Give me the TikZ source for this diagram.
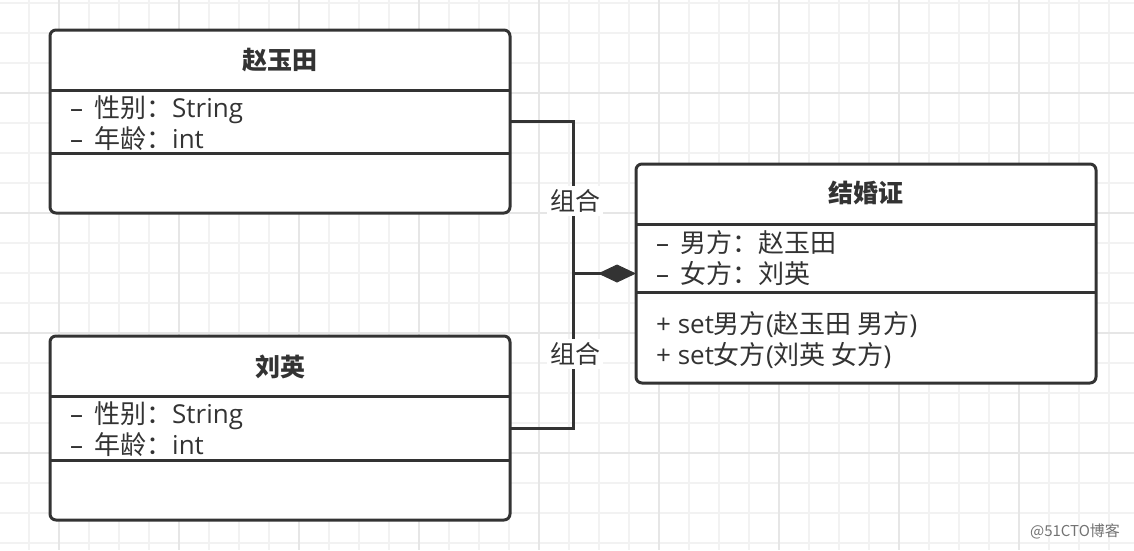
\documentclass[tikz,border=0pt]{standalone}
\usepackage{fontspec}
\setmainfont{Open Sans}
\newfontfamily\cjk{Noto Sans CJK SC}
\usepackage{xcolor}
\usetikzlibrary{arrows.meta}

\definecolor{umlline}{HTML}{333333}
\definecolor{gridminor}{HTML}{F2F2F2}
\definecolor{gridmajor}{HTML}{E6E6E6}

\newcommand{\priv}{–\hspace{11pt}}

\tikzset{
  classbox/.style={draw=umlline, line width=3pt, rounded corners=6pt, fill=white,
                   inner sep=0pt, outer sep=0pt},
  sepline/.style={draw=umlline, line width=3pt},
  classname/.style={font=\fontsize{25}{28}\selectfont\cjk\bfseries, text=umlline},
  members/.style={anchor=west, align=left, inner sep=0pt,
                  font=\fontsize{26}{31}\selectfont, text=umlline},
  assoc/.style={draw=umlline, line width=3pt},
  rolelabel/.style={fill=white, inner sep=3pt, font=\fontsize{25}{28}\selectfont\cjk, text=umlline},
}

\begin{document}
\begin{tikzpicture}[x=1pt, y=-1pt]
                \useasboundingbox (0,0) rectangle (1134,550);

                %% grid
                \foreach \x in {-1,29,...,1139}
                    \draw[gridminor, line width=1.5pt] (\x,0) -- (\x,550);
                \foreach \y in {3,33,...,550}
                    \draw[gridminor, line width=1.5pt] (0,\y) -- (1134,\y);
                \foreach \x in {59,179,...,1139}
                    \draw[gridmajor, line width=1.5pt] (\x,0) -- (\x,550);
                \foreach \y in {93,213,...,550}
                    \draw[gridmajor, line width=1.5pt] (0,\y) -- (1134,\y);

                %% 赵玉田
                \node[classbox, minimum width=460pt, minimum height=183pt] (zhao) at (280,121.5) {};
                \draw[sepline] (50,90) -- (510,90);
                \draw[sepline] (50,153) -- (510,153);
                \node[classname] (zhaoT) at (280,60) {赵玉田};
                \node[members] (zhaoA) at (70,123) {\priv{\cjk 性别：}String\\\priv{\cjk 年龄：}int};

                %% 刘英
                \node[classbox, minimum width=460pt, minimum height=184pt] (liu) at (280,428) {};
                \draw[sepline] (50,396) -- (510,396);
                \draw[sepline] (50,460) -- (510,460);
                \node[classname] (liuT) at (280,367) {刘英};
                \node[members] (liuA) at (70,429) {\priv{\cjk 性别：}String\\\priv{\cjk 年龄：}int};

                %% 结婚证
                \node[classbox, minimum width=460pt, minimum height=219pt] (cert) at (866,273.5) {};
                \draw[sepline] (636,224) -- (1096,224);
                \draw[sepline] (636,292) -- (1096,292);
                \node[classname] (certT) at (866,193) {结婚证};
                \node[members] (certA) at (656,258) {\priv{\cjk 男方：赵玉田}\\\priv{\cjk 女方：刘英}};
                \node[members] (certM) at (656,340) {+ set{\cjk 男方}({\cjk 赵玉田 男方})\\+ set{\cjk 女方}({\cjk 刘英 女方})};

                %% 组合
                \coordinate (joint) at (573,273.5);
                \draw[assoc] (zhao.east) -| (joint) |- (liu.east);
                \draw[assoc, -{Diamond[length=38pt, width=18pt, line width=1pt, fill=umlline]}] (joint) -- (cert.west);
                \node[rolelabel] (roleA) at (575,201) {组合};
                \node[rolelabel] (roleB) at (575,354) {组合};

                %% watermark
                \node[font=\fontsize{15}{18}\selectfont\cjk, text=black!55] (mark) at (1075,531) {@51CTO博客};

            \end{tikzpicture}
\end{document}
